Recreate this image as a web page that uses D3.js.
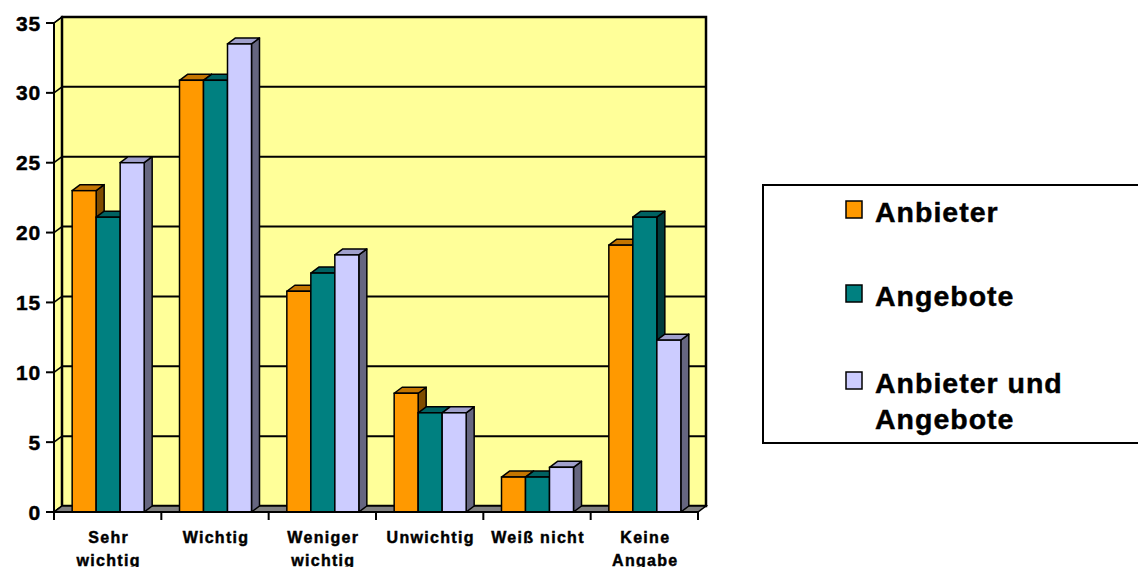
<!DOCTYPE html>
<html>
<head>
<meta charset="utf-8">
<script src="https://cdn.jsdelivr.net/npm/d3@7"></script>
<style>
  html, body { margin: 0; padding: 0; background: #fff; }
  svg { display: block; }
  text { font-family: "Liberation Sans", Arial, sans-serif; font-weight: bold; fill: #000; stroke: #000; stroke-width: 0.45px; }
</style>
</head>
<body>
<svg id="chart" width="1138" height="567"></svg>
<script>
// ---- data ----
const categories = ["Sehr\nwichtig", "Wichtig", "Weniger\nwichtig", "Unwichtig", "Weiß nicht", "Keine\nAngabe"];
const seriesNames = ["Anbieter", "Angebote", "Anbieter und\nAngebote"];
const anbieter = [23.0, 30.9, 15.8, 8.5, 2.5, 19.1];
const angebote = [21.1, 30.9, 17.1, 7.1, 2.5, 21.1];
const beides   = [25.0, 33.5, 18.4, 7.1, 3.2, 12.3];
const yTicks = [0, 5, 10, 15, 20, 25, 30, 35];

const frontColors = ["#FF9900", "#008080", "#CCCCFF"];
const topColors   = ["#C47500", "#006262", "#A0A0CC"];
const sideColors  = ["#7F4C00", "#003D3D", "#666680"];

const seriesValues = [anbieter, angebote, beides];

// ---- layout ----
const svg = d3.select("#chart");
const DX = 8, DY = -6;
const x0 = 54, x1 = 698;
const y = d3.scaleLinear().domain([0, 35]).range([512, 23]);
const xCat = d3.scaleBand().domain(d3.range(categories.length)).range([x0, x1]).padding(0);
const barW = 24;
const xSer = d3.scaleBand().domain(d3.range(3)).range([0, barW * 3]).padding(0);
const groupOffset = (xCat.bandwidth() - barW * 3) / 2 + 0.5;

const g = svg.append("g");

// back wall
g.append("rect")
  .attr("x", x0 + DX).attr("y", y(35) + DY)
  .attr("width", x1 - x0).attr("height", y(0) - y(35))
  .attr("fill", "#FFFF99");

// left wall
g.append("path")
  .attr("d", `M${x0},${y(35)} L${x0 + DX},${y(35) + DY} L${x0 + DX},${y(0) + DY} L${x0},${y(0)} Z`)
  .attr("fill", "#FFFF99").attr("stroke", "#000").attr("stroke-width", 1.5);

// gridlines on back wall and left wall
yTicks.forEach(t => {
  g.append("line")
    .attr("x1", x0 + DX).attr("x2", x1 + DX)
    .attr("y1", y(t) + DY).attr("y2", y(t) + DY)
    .attr("stroke", "#000").attr("stroke-width", 2);
  g.append("line")
    .attr("x1", x0).attr("x2", x0 + DX)
    .attr("y1", y(t)).attr("y2", y(t) + DY)
    .attr("stroke", "#000").attr("stroke-width", 1.5);
});

// back wall outline
g.append("rect")
  .attr("x", x0 + DX).attr("y", y(35) + DY)
  .attr("width", x1 - x0).attr("height", y(0) - y(35))
  .attr("fill", "none").attr("stroke", "#000").attr("stroke-width", 2.5);

// floor
g.append("path")
  .attr("d", `M${x0},${y(0)} L${x0 + DX},${y(0) + DY} L${x1 + DX},${y(0) + DY} L${x1},${y(0)} Z`)
  .attr("fill", "#808080").attr("stroke", "#000").attr("stroke-width", 1.5);

// bars
categories.forEach((c, ci) => {
  seriesValues.forEach((vals, si) => {
    const v = vals[ci];
    const bx = xCat(ci) + groupOffset + xSer(si);
    const by = y(v), b0 = y(0);
    const bg = g.append("g");
    bg.append("path")
      .attr("d", `M${bx + barW},${by} L${bx + barW + DX},${by + DY} L${bx + barW + DX},${b0 + DY} L${bx + barW},${b0} Z`)
      .attr("fill", sideColors[si]).attr("stroke", "#000").attr("stroke-width", 1.5).attr("stroke-linejoin", "round");
    bg.append("path")
      .attr("d", `M${bx},${by} L${bx + DX},${by + DY} L${bx + barW + DX},${by + DY} L${bx + barW},${by} Z`)
      .attr("fill", topColors[si]).attr("stroke", "#000").attr("stroke-width", 1.5).attr("stroke-linejoin", "round");
    bg.append("rect")
      .attr("x", bx).attr("y", by).attr("width", barW).attr("height", b0 - by)
      .attr("fill", frontColors[si]).attr("stroke", "#000").attr("stroke-width", 1.5);
  });
});

// y axis
g.append("line").attr("x1", x0).attr("x2", x0).attr("y1", y(35)).attr("y2", y(0))
  .attr("stroke", "#000").attr("stroke-width", 2);
yTicks.forEach(t => {
  g.append("line").attr("x1", x0 - 8).attr("x2", x0).attr("y1", y(t)).attr("y2", y(t))
    .attr("stroke", "#000").attr("stroke-width", 2);
  g.append("text").attr("x", 41).attr("y", y(t) + 7.5)
    .attr("text-anchor", "end").attr("font-size", 21).attr("letter-spacing", 0.8)
    .text(t);
});

// x axis
g.append("line").attr("x1", x0).attr("x2", x1).attr("y1", y(0)).attr("y2", y(0))
  .attr("stroke", "#000").attr("stroke-width", 2);
d3.range(categories.length + 1).forEach(i => {
  const tx = x0 + i * xCat.bandwidth();
  g.append("line").attr("x1", tx).attr("x2", tx).attr("y1", y(0)).attr("y2", y(0) + 8)
    .attr("stroke", "#000").attr("stroke-width", 2);
});
categories.forEach((c, ci) => {
  const cx = xCat(ci) + xCat.bandwidth() / 2 + 1;
  const t = g.append("text").attr("text-anchor", "middle").attr("font-size", 16).attr("letter-spacing", 1.3);
  c.split("\n").forEach((line, li) => {
    t.append("tspan").attr("x", cx).attr("y", 542.5 + li * 23).text(line);
  });
});

// legend
const lg = svg.append("g");
lg.append("rect").attr("x", 763).attr("y", 185).attr("width", 400).attr("height", 258)
  .attr("fill", "#fff").attr("stroke", "#000").attr("stroke-width", 2);
const legendY = [201, 285, 372];
seriesNames.forEach((name, i) => {
  lg.append("rect").attr("x", 846).attr("y", legendY[i]).attr("width", 16).attr("height", 17)
    .attr("fill", frontColors[i]).attr("stroke", "#000").attr("stroke-width", 1.5);
  const t = lg.append("text").attr("font-size", 28.5).attr("letter-spacing", 1.0);
  name.split("\n").forEach((line, li) => {
    t.append("tspan").attr("x", 875).attr("y", legendY[i] + 20.5 + li * 36.5).text(line);
  });
});
</script>
</body>
</html>
